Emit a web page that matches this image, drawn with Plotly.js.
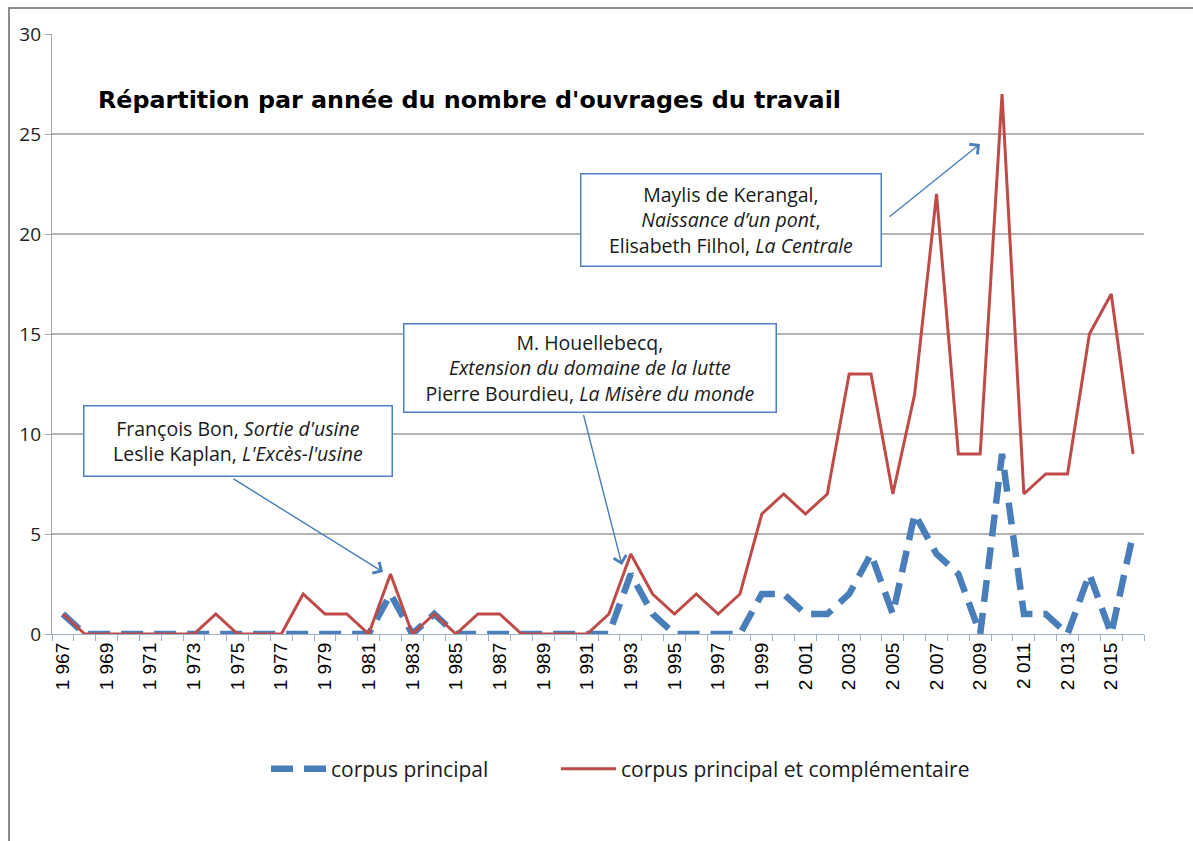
<!DOCTYPE html>
<html>
<head>
<meta charset="utf-8">
<script src="https://cdn.plot.ly/plotly-3.0.1.min.js"></script>
<style>html,body{margin:0;padding:0;background:#fff;}#chart{width:1193px;height:841px;}</style>
</head>
<body>
<div id="chart"></div>
<script>
var years = [1967,1968,1969,1970,1971,1972,1973,1974,1975,1976,1977,1978,1979,1980,1981,1982,1983,1984,1985,1986,1987,1988,1989,1990,1991,1992,1993,1994,1995,1996,1997,1998,1999,2000,2001,2002,2003,2004,2005,2006,2007,2008,2009,2010,2011,2012,2013,2014,2015,2016];
var corpusPrincipal = [1,0,0,0,0,0,0,0,0,0,0,0,0,0,0,2,0,1,0,0,0,0,0,0,0,0,3,1,0,0,0,0,2,2,1,1,2,4,1,6,4,3,0,9,1,1,0,3,0,5];
var corpusComplet = [1,0,0,0,0,0,0,1,0,0,0,2,1,1,0,3,0,1,0,1,1,0,0,0,0,1,4,2,1,2,1,2,6,7,6,7,13,13,7,12,22,9,9,27,7,8,8,15,17,9];
var tickYears = [1967,1969,1971,1973,1975,1977,1979,1981,1983,1985,1987,1989,1991,1993,1995,1997,1999,2001,2003,2005,2007,2009,2011,2013,2015];
var tickLabels = ["1 967","1 969","1 971","1 973","1 975","1 977","1 979","1 981","1 983","1 985","1 987","1 989","1 991","1 993","1 995","1 997","1 999","2 001","2 003","2 005","2 007","2 009","2 011","2 013","2 015"];
var seriesNames = ["corpus principal","corpus principal et complémentaire"];
var chartTitle = "Répartition par année du nombre d'ouvrages du travail";
var noteTexts = [
  "François Bon, <i>Sortie d'usine</i><br>Leslie Kaplan, <i>L'Excès-l'usine</i>",
  "M. Houellebecq,<br><i>Extension du domaine de la lutte</i><br>Pierre Bourdieu, <i>La Misère du monde</i>",
  "Maylis de Kerangal,<br><i>Naissance d’un pont</i>,<br>Elisabeth Filhol, <i>La Centrale</i>"
];

var traces = [
  {x: years, y: corpusPrincipal, name: seriesNames[0], type: 'scatter', mode: 'lines', legend: 'legend',
   line: {color: '#4a7ebb', width: 6.5, dash: '22px,11px'}},
  {x: years, y: corpusComplet, name: seriesNames[1], type: 'scatter', mode: 'lines', legend: 'legend2',
   line: {color: '#be4b48', width: 3}}
];

var boxFont = {family: 'Open Sans, sans-serif', size: 19.5, color: '#1a1a1a'};
function box(text, x, y, w, h) {
  return {text: text, xref: 'paper', yref: 'paper', x: x, y: y, xanchor: 'center', yanchor: 'middle',
    showarrow: false, width: w, height: h, align: 'center', valign: 'middle',
    bordercolor: '#4f81bd', borderwidth: 1.5, borderpad: 1, bgcolor: '#ffffff', font: boxFont};
}
function arrow(x, y, ax, ay) {
  return {text: ' ', xref: 'paper', yref: 'paper', x: x, y: y, ax: ax, ay: ay,
    showarrow: true, arrowhead: 4, arrowsize: 1.8, arrowwidth: 1.4, arrowcolor: '#4a7ebb',
    font: {size: 1}, standoff: 0, startstandoff: 0};
}
var legendFont = {family: 'Open Sans, sans-serif', size: 21, color: '#1a1a1a'};

var layout = {
  width: 1193, height: 841,
  margin: {l: 52, r: 49, t: 34, b: 207},
  paper_bgcolor: '#ffffff', plot_bgcolor: '#ffffff',
  showlegend: true,
  title: {text: '<b>' + chartTitle + '</b>', x: 98/1193, xanchor: 'left', xref: 'container',
    y: 1 - 100/841, yanchor: 'middle', yref: 'container',
    font: {family: 'DejaVu Sans, sans-serif', size: 23.8, color: '#000'}},
  xaxis: {range: [1966.5, 2016.5], tickmode: 'array', tickvals: tickYears, ticktext: tickLabels,
    tickangle: -90, ticks: '', showgrid: false, zeroline: false,
    showline: true, linecolor: '#9db0c8', linewidth: 1.2,
    tickfont: {family: 'Liberation Sans, Arial, sans-serif', size: 19, color: '#000'},
    minor: {tick0: 1966.5, dtick: 1, ticks: 'outside', ticklen: 6, tickcolor: '#9db0c8', showgrid: false},
    fixedrange: true},
  yaxis: {range: [0, 30], dtick: 5, tick0: 0, showgrid: true, gridcolor: '#b3b3b3', gridwidth: 1.2,
    zeroline: false, showline: true, linecolor: '#a6a6a6', linewidth: 1.2,
    ticks: 'outside', ticklen: 6, tickcolor: '#a6a6a6',
    tickfont: {family: 'Open Sans, sans-serif', size: 19, color: '#222'}, fixedrange: true},
  legend: {orientation: 'h', x: (266-52)/1092, xanchor: 'left', y: (634-769)/600, yanchor: 'middle',
    font: legendFont, itemwidth: 55, bgcolor: 'rgba(0,0,0,0)'},
  legend2: {orientation: 'h', x: (556-52)/1092, xanchor: 'left', y: (634-769)/600, yanchor: 'middle',
    font: legendFont, itemwidth: 55, bgcolor: 'rgba(0,0,0,0)'},
  annotations: [
    box(noteTexts[0], (238-52)/1092, (634-441)/600, 305, 67),
    box(noteTexts[1], (590-52)/1092, (634-368)/600, 369, 85),
    box(noteTexts[2], (731-52)/1092, (634-220)/600, 297, 89),
    arrow((383-52)/1092, (634-572)/600, -151, -94),
    arrow((622-52)/1092, (634-565)/600, -39, -152),
    arrow((980-52)/1092, (634-144)/600, -92, 74)
  ],
  shapes: [
    {type: 'line', xref: 'paper', yref: 'paper', x0: (8-52)/1092, x1: (1200-52)/1092,
     y0: (634-8)/600, y1: (634-8)/600, line: {color: '#8c8c8c', width: 2}},
    {type: 'line', xref: 'paper', yref: 'paper', x0: (9-52)/1092, x1: (9-52)/1092,
     y0: (634-8)/600, y1: (634-850)/600, line: {color: '#8c8c8c', width: 2}}
  ],
  hovermode: false
};

Plotly.newPlot('chart', traces, layout, {displayModeBar: false, staticPlot: true});
</script>
</body>
</html>
